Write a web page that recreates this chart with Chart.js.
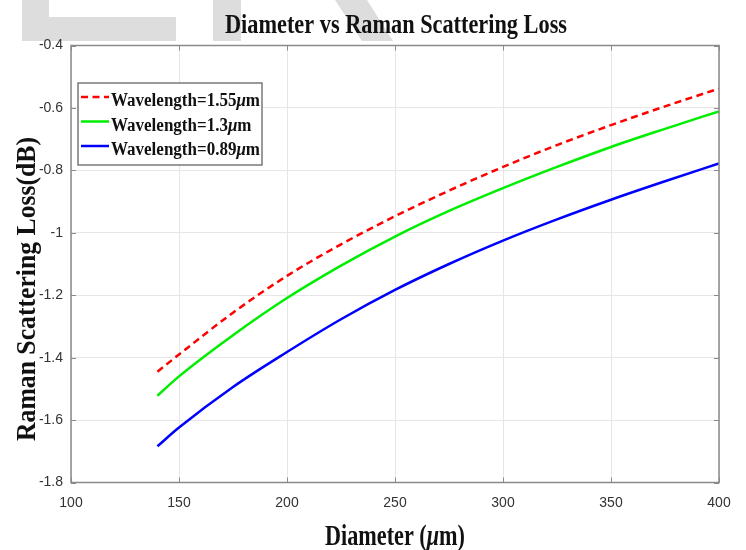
<!DOCTYPE html>
<html>
<head>
<meta charset="utf-8">
<script src="https://cdn.jsdelivr.net/npm/chart.js@4.4.1/dist/chart.umd.min.js"></script>
<style>
html,body{margin:0;padding:0;background:#fff;}
canvas{display:block;}
</style>
</head>
<body>
<canvas id="c" width="746" height="550"></canvas>
<script>
// ---- data ----
const diameters = [140, 150, 175, 200, 225, 250, 275, 300, 325, 350, 375, 400];
const loss155 = [-1.445, -1.390, -1.256, -1.138, -1.037, -0.947, -0.865, -0.789, -0.719, -0.655, -0.595, -0.538];
const loss130 = [-1.522, -1.460, -1.328, -1.209, -1.105, -1.012, -0.930, -0.857, -0.789, -0.725, -0.667, -0.611];
const loss089 = [-1.684, -1.624, -1.494, -1.382, -1.277, -1.183, -1.100, -1.025, -0.957, -0.894, -0.835, -0.778];
const seriesLabels = ['Wavelength=1.55μm', 'Wavelength=1.3μm', 'Wavelength=0.89μm'];
const xTicks = [100, 150, 200, 250, 300, 350, 400];
const yTicks = [-1.8, -1.6, -1.4, -1.2, -1, -0.8, -0.6, -0.4];
const titleText = 'Diameter vs Raman Scattering Loss';
const xTitleParts = [['Diameter (', false], ['μ', true], ['m)', false]];
const yTitleText = 'Raman Scattering Loss(dB)';

const SERIF = '"Liberation Serif", "Times New Roman", serif';
const SANS = '"Liberation Sans", Arial, sans-serif';

function toPoints(xs, ys) { return xs.map((x, i) => ({x: x, y: ys[i]})); }

function splitMu(s) {
  const i = s.indexOf('μ');
  if (i < 0) return [[s, false]];
  return [[s.slice(0, i), false], ['μ', true], [s.slice(i + 1), false]];
}
function fontFor(size, italic) { return (italic ? 'italic bold ' : 'bold ') + size + 'px ' + SERIF; }
function measureParts(ctx, parts, size) {
  let w = 0;
  parts.forEach(p => { ctx.font = fontFor(size, p[1]); w += ctx.measureText(p[0]).width; });
  return w;
}
function drawParts(ctx, parts, size, x, y, sx, align) {
  const w = measureParts(ctx, parts, size);
  ctx.save();
  ctx.translate(x, y);
  ctx.scale(sx, 1);
  let cx = align === 'center' ? -w / 2 : 0;
  ctx.textBaseline = 'alphabetic';
  ctx.textAlign = 'left';
  parts.forEach(p => {
    ctx.font = fontFor(size, p[1]);
    ctx.fillText(p[0], cx, 0);
    cx += ctx.measureText(p[0]).width;
  });
  ctx.restore();
}

const decoPlugin = {
  id: 'deco',
  beforeDraw(chart) {
    const ctx = chart.ctx;
    ctx.save();
    ctx.fillStyle = '#ffffff';
    ctx.fillRect(0, 0, chart.width, chart.height);
    ctx.fillStyle = '#dddddd';
    ctx.fillRect(22, 0, 27, 41);
    ctx.fillRect(22, 17, 154, 24);
    ctx.fillRect(213, 0, 28, 41);
    ctx.beginPath();
    ctx.moveTo(335, 0); ctx.lineTo(367, 0); ctx.lineTo(393, 41); ctx.lineTo(362, 41);
    ctx.closePath(); ctx.fill();
    ctx.restore();
  },
  afterDraw(chart) {
    const ctx = chart.ctx;
    const a = chart.chartArea;
    const xs = chart.scales.x, ys = chart.scales.y;
    ctx.save();
    // inner tick marks
    ctx.strokeStyle = '#8a8a8a';
    ctx.lineWidth = 1;
    ctx.beginPath();
    xTicks.forEach(v => {
      const px = Math.round(xs.getPixelForValue(v)) + 0.5;
      ctx.moveTo(px, a.bottom); ctx.lineTo(px, a.bottom - 5);
      ctx.moveTo(px, a.top); ctx.lineTo(px, a.top + 5);
    });
    yTicks.forEach(v => {
      const py = Math.round(ys.getPixelForValue(v)) + 0.5;
      ctx.moveTo(a.left, py); ctx.lineTo(a.left + 5, py);
      ctx.moveTo(a.right, py); ctx.lineTo(a.right - 5, py);
    });
    ctx.stroke();
    // plot box
    ctx.strokeStyle = '#8a8a8a';
    ctx.lineWidth = 1.5;
    ctx.strokeRect(a.left, a.top, a.right - a.left, a.bottom - a.top);

    // titles
    ctx.fillStyle = '#111111';
    let tp = [[titleText, false]];
    let sz = 28;
    drawParts(ctx, tp, sz, 396, 33, 342 / measureParts(ctx, tp, sz), 'center');
    sz = 29;
    drawParts(ctx, xTitleParts, sz, 395, 545, 140 / measureParts(ctx, xTitleParts, sz), 'center');
    ctx.save();
    ctx.translate(35, 289);
    ctx.rotate(-Math.PI / 2);
    tp = [[yTitleText, false]];
    sz = 27;
    drawParts(ctx, tp, sz, 0, 0, 304 / measureParts(ctx, tp, sz), 'center');
    ctx.restore();

    // legend
    const bx = 78, by = 83, bw = 184, bh = 82;
    ctx.fillStyle = '#ffffff';
    ctx.fillRect(bx, by, bw, bh);
    ctx.strokeStyle = '#7a7a7a';
    ctx.lineWidth = 1.5;
    ctx.strokeRect(bx, by, bw, bh);
    const lsz = 18;
    const first = splitMu(chart.data.datasets[0].label);
    const lsx = 149 / measureParts(ctx, first, lsz);
    chart.data.datasets.forEach((ds, i) => {
      const cy = 97 + i * 24.5;
      ctx.save();
      ctx.strokeStyle = ds.borderColor;
      ctx.lineWidth = ds.borderWidth;
      ctx.setLineDash(ds.borderDash || []);
      ctx.beginPath();
      ctx.moveTo(81, cy); ctx.lineTo(109, cy);
      ctx.stroke();
      ctx.restore();
      ctx.fillStyle = '#111111';
      drawParts(ctx, splitMu(ds.label), lsz, 111, cy + 9, lsx, 'left');
    });
    ctx.restore();
  }
};

const tickFont = {family: SANS, size: 14};

new Chart(document.getElementById('c'), {
  type: 'line',
  data: {
    datasets: [
      {label: seriesLabels[0], data: toPoints(diameters, loss155), borderColor: '#ff0000', borderWidth: 2.5, borderDash: [7, 4.5], pointRadius: 0, fill: false, cubicInterpolationMode: 'monotone'},
      {label: seriesLabels[1], data: toPoints(diameters, loss130), borderColor: '#00ee00', borderWidth: 2.5, pointRadius: 0, fill: false, cubicInterpolationMode: 'monotone'},
      {label: seriesLabels[2], data: toPoints(diameters, loss089), borderColor: '#0000ff', borderWidth: 2.5, pointRadius: 0, fill: false, cubicInterpolationMode: 'monotone'}
    ]
  },
  options: {
    responsive: false,
    animation: false,
    devicePixelRatio: 1,
    layout: {padding: {left: 0, right: 27, top: 45.5, bottom: 0}},
    plugins: {legend: {display: false}, title: {display: false}, tooltip: {enabled: false}},
    scales: {
      x: {
        type: 'linear', min: 100, max: 400,
        afterBuildTicks: s => { s.ticks = xTicks.map(v => ({value: v})); },
        afterFit: s => { s.height = 67.5; },
        grid: {color: '#e6e6e6', lineWidth: 1, drawTicks: false},
        border: {display: false},
        ticks: {font: tickFont, color: '#333333', padding: 12, maxRotation: 0, autoSkip: false, callback: v => String(v)}
      },
      y: {
        type: 'linear', min: -1.8, max: -0.4,
        afterBuildTicks: s => { s.ticks = yTicks.map(v => ({value: v})); },
        afterFit: s => { s.width = 71; },
        grid: {color: '#e6e6e6', lineWidth: 1, drawTicks: false},
        border: {display: false},
        ticks: {font: tickFont, color: '#333333', padding: 8, autoSkip: false, callback: v => String(Math.round(v * 10) / 10)}
      }
    }
  },
  plugins: [decoPlugin]
});
</script>
</body>
</html>
